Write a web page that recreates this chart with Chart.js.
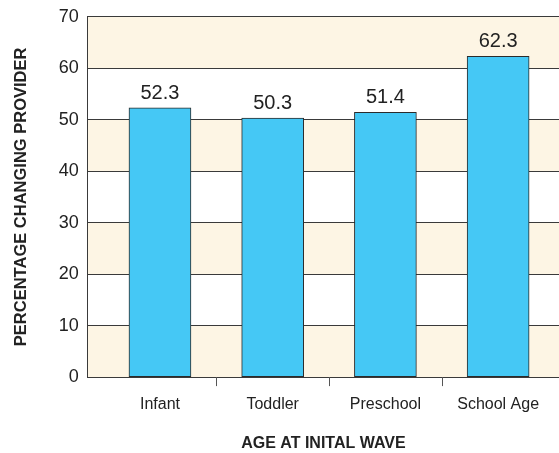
<!DOCTYPE html>
<html>
<head>
<meta charset="utf-8">
<script src="https://cdn.jsdelivr.net/npm/chart.js@4.4.1/dist/chart.umd.min.js"></script>
<style>
  html, body { margin: 0; padding: 0; background: #ffffff; }
  #wrap { width: 559px; height: 453px; position: relative; }
</style>
</head>
<body>
<div id="wrap"><canvas id="c"></canvas></div>
<script>
// Share of children changing care provider, by age group at the first wave
const categories = ['Infant', 'Toddler', 'Preschool', 'School Age'];
const percentChanging = [52.3, 50.3, 51.4, 62.3];
const yTicks = [0, 10, 20, 30, 40, 50, 60, 70];

const INK = '#222222';
const GRID = '#3a3a3a';
const BAND = '#fdf5e4';
const BAR = '#45c8f5';
const FACE = '"Liberation Sans", Arial, sans-serif';

// Alternating shaded bands between every other pair of y ticks
const bandPlugin = {
  id: 'bands',
  beforeDraw(chart) {
    const { ctx, chartArea: a, scales: { y } } = chart;
    ctx.save();
    ctx.fillStyle = BAND;
    for (let i = 0; i < yTicks.length - 1; i += 2) {
      const top = y.getPixelForValue(yTicks[i + 1]);
      const bottom = y.getPixelForValue(yTicks[i]);
      ctx.fillRect(a.left, top, a.right - a.left, bottom - top);
    }
    ctx.restore();
  }
};

// Short separator marks under the axis between neighbouring categories
const separatorPlugin = {
  id: 'separators',
  afterDraw(chart) {
    const { ctx, chartArea: a, scales: { x } } = chart;
    ctx.save();
    ctx.strokeStyle = '#555555';
    ctx.lineWidth = 1;
    for (let i = 0; i < categories.length - 1; i++) {
      const px = Math.round(x.getPixelForValue(i + 0.5)) + 0.5;
      ctx.beginPath();
      ctx.moveTo(px, a.bottom);
      ctx.lineTo(px, a.bottom + 9);
      ctx.stroke();
    }
    ctx.restore();
  }
};

// Value printed above each bar
const valueLabelPlugin = {
  id: 'valueLabels',
  afterDatasetsDraw(chart) {
    const { ctx } = chart;
    const meta = chart.getDatasetMeta(0);
    ctx.save();
    ctx.fillStyle = INK;
    ctx.font = '20px ' + FACE;
    ctx.textAlign = 'center';
    ctx.textBaseline = 'alphabetic';
    meta.data.forEach((bar, i) => {
      ctx.fillText(percentChanging[i].toFixed(1), bar.x, bar.y - 9);
    });
    ctx.restore();
  }
};

function build() {
  new Chart(document.getElementById('c'), {
    type: 'bar',
    data: {
      datasets: [{
        data: categories.map((c, i) => ({ x: i, y: percentChanging[i] })),
        backgroundColor: BAR,
        borderColor: '#2b2b2b',
        borderWidth: 1,
        borderSkipped: false,
        barThickness: 62
      }]
    },
    options: {
      responsive: true,
      maintainAspectRatio: false,
      animation: false,
      layout: { padding: { top: 0, right: 0, bottom: 0, left: 12 } },
      plugins: {
        legend: { display: false },
        tooltip: { enabled: false }
      },
      scales: {
        x: {
          type: 'linear',
          min: -0.64,
          max: 3.54,
          offset: false,
          afterBuildTicks(scale) {
            scale.ticks = categories.map((c, i) => ({ value: i }));
          },
          ticks: {
            autoSkip: false,
            maxRotation: 0,
            padding: 18,
            color: INK,
            font: { family: FACE, size: 16 },
            callback: (v) => categories[v]
          },
          grid: { display: true, drawOnChartArea: false, drawTicks: false, offset: false },
          border: { display: true, color: GRID, width: 1 },
          title: {
            display: true,
            text: 'AGE AT INITAL WAVE',
            color: INK,
            font: { family: FACE, size: 16, weight: 'bold' },
            padding: { top: 1.5, bottom: 0 }
          }
        },
        y: {
          min: 0,
          max: 70,
          afterBuildTicks(scale) {
            scale.ticks = yTicks.map(v => ({ value: v }));
          },
          ticks: {
            padding: 9,
            color: INK,
            font: { family: FACE, size: 18, lineHeight: 0.85 }
          },
          grid: { color: GRID, lineWidth: 1, drawTicks: false },
          border: { display: true, color: GRID, width: 1 },
          title: {
            display: true,
            text: 'PERCENTAGE CHANGING PROVIDER',
            color: INK,
            font: { family: FACE, size: 16.5, weight: 'bold' },
            padding: { top: 0, bottom: 18 }
          }
        }
      }
    },
    plugins: [bandPlugin, separatorPlugin, valueLabelPlugin]
  });
}

// Make sure the system faces are resolved before the canvas draws text
const faces = ['16px "Liberation Sans"', '18px "Liberation Sans"', 'bold 16px "Liberation Sans"'];
Promise.all(faces.map(f => document.fonts.load(f).catch(() => null)))
  .then(build, build);
</script>
</body>
</html>
